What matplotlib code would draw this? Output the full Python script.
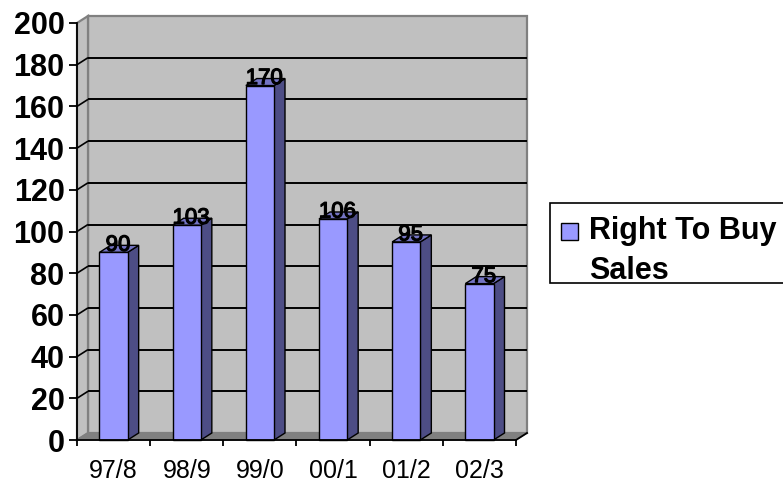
import matplotlib
matplotlib.use("Agg")
import matplotlib.pyplot as plt
from matplotlib.patches import Polygon, Patch, Rectangle
from matplotlib.legend_handler import HandlerPatch
import matplotlib.patheffects as pe
import numpy as np

plt.rcParams["font.family"] = ["Liberation Sans", "DejaVu Sans"]

# Data
categories = ["97/8", "98/9", "99/0", "00/1", "01/2", "02/3"]
sales = [90, 103, 170, 106, 95, 75]
y_ticks = [0, 20, 40, 60, 80, 100, 120, 140, 160, 180, 200]
series_name = "Right To Buy\nSales"

# Colours
FACE = "#9999FF"
SIDE = "#4D4D85"
TOP = "#7474C4"
WALL = "#C0C0C0"
WALL_EDGE = "#808080"
FLOOR = "#808080"

W, H = 783, 482
fig = plt.figure(figsize=(W / 100, H / 100), dpi=100)
fig.patch.set_facecolor("white")

# Front plane of the plot area, in pixels
left_px, right_px, bottom_px, top_px = 77, 516, 440, 23
ax = fig.add_axes([left_px / W, (H - bottom_px) / H,
                   (right_px - left_px) / W, (bottom_px - top_px) / H])
ax.set_xlim(-0.5, len(categories) - 0.5)
ax.set_ylim(0, 200)
ax.patch.set_visible(False)

# Depth offset of the 3-D box, converted to data units
px_per_x = (right_px - left_px) / len(categories)
px_per_y = (bottom_px - top_px) / 200
DX = 11 / px_per_x
DY = 7 / px_per_y
x0, x1 = -0.5, len(categories) - 0.5
ymax = 200


def poly(pts, fc, ec="none", lw=1.0, z=0):
    p = Polygon(pts, closed=True, facecolor=fc, edgecolor=ec, linewidth=lw,
                zorder=z, clip_on=False, joinstyle="miter")
    ax.add_patch(p)
    return p


# Walls and floor
poly([(x0 + DX, DY), (x1 + DX, DY), (x1 + DX, ymax + DY), (x0 + DX, ymax + DY)],
     WALL, WALL_EDGE, 1.6, 0)
poly([(x0, 0), (x0 + DX, DY), (x0 + DX, ymax + DY), (x0, ymax)],
     WALL, WALL_EDGE, 1.6, 0.1)
poly([(x0, 0), (x1, 0), (x1 + DX, DY), (x0 + DX, DY)], FLOOR, WALL_EDGE, 1.0, 0.2)

# Gridlines on back and side walls
for t in y_ticks[1:-1]:
    ax.plot([x0 + DX, x1 + DX], [t + DY, t + DY], color="black", lw=1.4,
            zorder=1, clip_on=False, solid_capstyle="butt")
    ax.plot([x0, x0 + DX], [t, t + DY], color="black", lw=1.2,
            zorder=1, clip_on=False, solid_capstyle="butt")

# Bars: front faces through ax.bar, then the side and top faces
BW = 0.385
xs = np.arange(len(categories))
bars = ax.bar(xs, sales, width=BW, color=FACE, edgecolor="black",
              linewidth=1.0, zorder=3, clip_on=False)
for rect, v in zip(bars, sales):
    bx0 = rect.get_x()
    bx1 = bx0 + rect.get_width()
    h = rect.get_height()
    poly([(bx1, 0), (bx1 + DX, DY), (bx1 + DX, h + DY), (bx1, h)],
         SIDE, "black", 1.0, 2.9)
    poly([(bx0, h), (bx1, h), (bx1 + DX, h + DY), (bx0 + DX, h + DY)],
         TOP, "black", 1.0, 2.9)
    ax.text(rect.get_x() + rect.get_width() / 2 + DX * 0.4, h + DY, f"{v:g}",
            ha="center", va="center", fontsize=16, color="black", zorder=5,
            path_effects=[pe.withStroke(linewidth=0.9, foreground="black")])

# Axis lines
for s in ["top", "right"]:
    ax.spines[s].set_visible(False)
for s in ["left", "bottom"]:
    ax.spines[s].set_color("black")
    ax.spines[s].set_linewidth(1.3)
    ax.spines[s].set_zorder(4)
ax.plot([x1, x1 + DX], [0, DY], color="black", lw=1.3, zorder=4, clip_on=False)

# Ticks and labels
ax.set_yticks(y_ticks)
ax.set_yticklabels([str(t) for t in y_ticks], fontsize=22, fontweight="bold")
ax.tick_params(axis="y", length=6, width=1.3, pad=3, direction="out", colors="black")

ax.set_xticks(xs)
ax.set_xticklabels(categories, fontsize=18)
ax.tick_params(axis="x", which="major", length=0, pad=13.5)
ax.set_xticks(np.arange(-0.5, len(categories), 1.0), minor=True)
ax.tick_params(axis="x", which="minor", length=4.5, width=1.3, direction="out")

# Legend: square key placed beside the first line of the two-line label
LEG_FS = 22
LINESP = 1.45


def top_square(legend, orig_handle, xdescent, ydescent, width, height, fontsize):
    size = 0.56 * fontsize
    return Rectangle((-xdescent + 3.6, 0.73 * fontsize), size, size)


# Legend frame, open past the right edge of the figure
frame = Rectangle((550 / W, 1 - 283 / H), 260 / W, 80 / H, transform=fig.transFigure,
                  facecolor="white", edgecolor="black", linewidth=1.2, zorder=-1)
fig.add_artist(frame)

handle = Patch(facecolor=FACE, edgecolor="black", linewidth=1.0)
leg = ax.legend([handle], [series_name], loc="upper left",
                bbox_to_anchor=(556 / W, 1 - 216 / H), bbox_transform=fig.transFigure,
                borderaxespad=0, frameon=False,
                prop={"size": LEG_FS, "weight": "bold"}, handlelength=0.72,
                handleheight=0.7, handletextpad=0.36, borderpad=0.0,
                handler_map={Patch: HandlerPatch(patch_func=top_square)})
for txt in leg.get_texts():
    txt.set_linespacing(LINESP)

fig.savefig("out.png", dpi=100)
